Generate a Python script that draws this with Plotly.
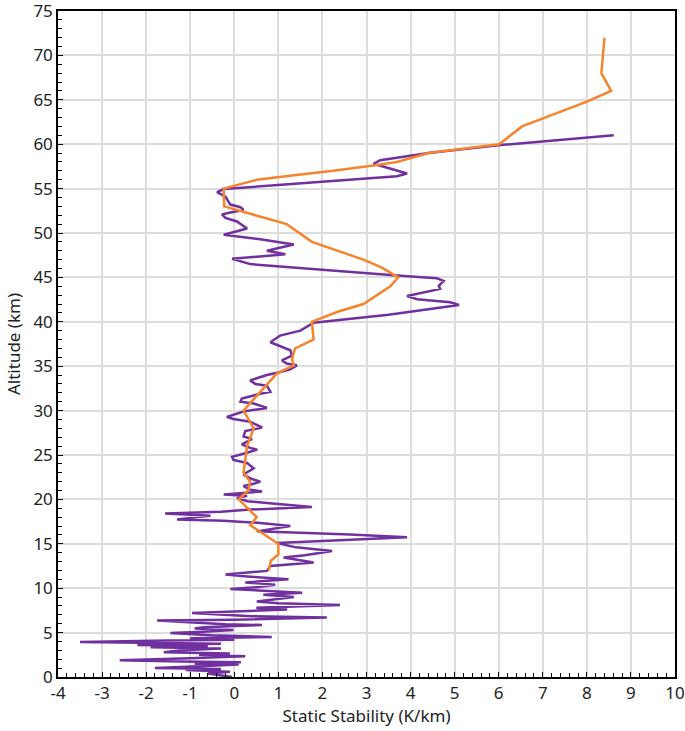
import plotly.graph_objects as go

# Purple profile: static stability (K/km) vs altitude (km)
purple_x = [-0.05, -0.6, -0.1, -1.1, -0.3, -1.8, -0.8, 0.1, -0.9, 0.15, -1.2, -2.6, -1.0, 0.25, -0.8, -0.1,
            -1.6, -1.2, -0.3, -1.9, -0.6, -2.2, -0.3, -2.0, -3.5, -1.5, 0.0, -1.0, 0.85, -0.5, -1.45, -0.7,
            -0.02, -0.9, -0.7, 0.63, -0.2, -1.75, 0.0, 2.1, 0.4, -0.96, 0.6, 1.2, 0.5, 2.4, 1.0, 0.51,
            1.35, 0.66, 1.54, 0.78, -0.09, 0.5, 0.93, 0.25, 1.23, 0.36, -0.2, 0.74, 0.82, 1.80, 1.12, 1.6,
            2.22, 1.4, 0.97, 3.92, 2.63, 0.51, 1.27, 0.59, -0.24, -1.30, -0.54, -1.57, -0.3, 0.36, 1.76, 0.74,
            0.3, 0.06, 0.29, -0.24, 0.63, 0.36, 0.21, 0.36, 0.59, 0.40, 0.21, 0.44, 0.29, -0.02, -0.05, 0.25,
            0.52, 0.36, 0.17, 0.40, 0.21, 0.25, 0.63, 0.36, -0.02, -0.17, 0.21, 0.74, 0.44, 0.14, 0.17, 0.59,
            0.82, 0.74, 0.48, 0.36, 0.74, 1.0, 1.27, 1.42, 1.19, 1.08, 1.31, 1.27, 1.08, 0.82, 1.04, 1.5,
            1.80, 3.5, 5.1, 4.9, 4.15, 3.92, 4.67, 4.64, 4.75, 4.6, 3.69, 1.88, 0.36, -0.05, 1.16, 0.74,
            1.35, 0.59, -0.02, -0.24, 0.29, 0.06, -0.2, -0.28, -0.09, 0.21, 0.14, -0.09, -0.2, -0.39, -0.24, 3.69,
            3.92, 3.16, 3.31, 4.45, 6.04, 8.61]
purple_alt = [0.0, 0.4, 0.6, 0.8, 0.9, 1.0, 1.2, 1.4, 1.5, 1.65, 1.75, 1.9, 2.1, 2.35, 2.5, 2.65,
              2.8, 3.0, 3.2, 3.35, 3.5, 3.6, 3.75, 3.85, 3.95, 4.1, 4.2, 4.35, 4.5, 4.7, 4.95, 5.1,
              5.3, 5.45, 5.6, 5.85, 5.95, 6.35, 6.45, 6.7, 6.85, 7.2, 7.45, 7.6, 7.8, 8.1, 8.3, 8.5,
              9.0, 9.25, 9.5, 9.7, 9.9, 10.1, 10.4, 10.65, 11.0, 11.3, 11.55, 11.95, 12.5, 12.9, 13.45, 13.7,
              14.2, 14.6, 15.1, 15.75, 16.05, 16.4, 17.0, 17.35, 17.6, 17.75, 18.15, 18.4, 18.6, 18.85, 19.15, 19.6,
              19.8, 20.15, 20.4, 20.55, 20.9, 21.1, 21.5, 21.65, 22.0, 22.3, 22.8, 23.5, 24.1, 24.45, 24.8, 25.2,
              25.6, 25.8, 26.2, 26.8, 27.1, 27.7, 28.1, 28.75, 29.05, 29.3, 29.9, 30.3, 30.8, 31.0, 31.35, 31.9,
              32.1, 32.8, 33.0, 33.4, 34.0, 34.3, 34.65, 35.1, 35.3, 35.65, 36.2, 36.8, 37.15, 37.7, 38.45, 39.0,
              39.9, 40.8, 41.9, 42.2, 42.55, 42.9, 43.7, 44.05, 44.6, 44.9, 45.2, 45.9, 46.5, 47.1, 47.6, 48.0,
              48.7, 49.3, 49.65, 49.8, 50.5, 51.3, 51.7, 52.1, 52.3, 52.6, 52.9, 53.2, 54.1, 54.6, 54.95, 56.4,
              56.7, 57.8, 58.2, 59.05, 59.9, 61.0]

# Orange (smoothed) profile
orange_x = [0.78, 0.83, 1.0, 1.0, 0.36, 0.51, 0.10, 0.32, 0.36, 0.21, 0.29, 0.44, 0.21, 0.63, 0.97, 1.35,
            1.31, 1.38, 1.80, 1.76, 2.33, 2.93, 3.54, 3.72, 3.35, 2.93, 1.76, 1.19, -0.23, -0.24, 0.51, 1.5,
            2.25, 3.16, 3.69, 4.41, 6.01, 6.53, 7.6, 8.0, 8.55, 8.33, 8.40]
orange_alt = [12.0, 13.1, 13.8, 15.0, 17.1, 18.0, 20.0, 21.0, 22.0, 23.0, 26.0, 28.0, 30.0, 32.3, 34.2, 35.1,
              35.8, 37.0, 38.0, 40.0, 41.1, 42.0, 44.0, 45.0, 46.1, 47.0, 49.0, 51.0, 53.0, 55.0, 56.0, 56.6,
              57.0, 57.6, 58.0, 59.0, 60.0, 62.0, 64.0, 64.8, 66.0, 68.0, 72.0]

x_ticks = list(range(-4, 11))
x_labels = [str(v) for v in x_ticks]
y_ticks = list(range(0, 80, 5))
y_labels = [str(v) for v in y_ticks]

FONT = "Noto Sans, Open Sans, DejaVu Sans, sans-serif"

fig = go.Figure()
fig.add_trace(go.Scatter(x=purple_x, y=purple_alt, mode="lines",
                         line=dict(color="#7030A0", width=2.5), showlegend=False))
fig.add_trace(go.Scatter(x=orange_x, y=orange_alt, mode="lines",
                         line=dict(color="#F5842C", width=2.5), showlegend=False))

fig.update_layout(
    width=685, height=731,
    margin=dict(l=58, r=10, t=11, b=54),
    paper_bgcolor="white", plot_bgcolor="white",
    font=dict(family=FONT, size=17, color="#222222"),
    xaxis=dict(range=[-4, 10], tickvals=x_ticks, ticktext=x_labels, showgrid=True,
               gridcolor="#DDDDDD", gridwidth=1.5,
               showline=True, linecolor="black", linewidth=1.5, mirror=True,
               ticks="inside", ticklen=5, tickcolor="black", zeroline=False,
               automargin=False, ticklabeloverflow="allow",
               minor=dict(dtick=0.2, ticks="inside", ticklen=4, tickcolor="black", showgrid=False),
               title=dict(text="Static Stability (K/km)", standoff=4, font=dict(size=17))),
    yaxis=dict(range=[0, 75], tickvals=y_ticks, ticktext=y_labels, showgrid=True,
               gridcolor="#DDDDDD", gridwidth=1.5,
               showline=True, linecolor="black", linewidth=1.5, mirror=True,
               ticks="inside", ticklen=5, tickcolor="black", zeroline=False,
               automargin=False, ticklabeloverflow="allow",
               minor=dict(dtick=1, ticks="inside", ticklen=4, tickcolor="black", showgrid=False),
               title=dict(text="Altitude (km)", standoff=8, font=dict(size=17))),
)

fig.write_html("out.html", config={"displayModeBar": False},
               post_script="document.body.style.margin='0';document.body.style.overflow='hidden';")
